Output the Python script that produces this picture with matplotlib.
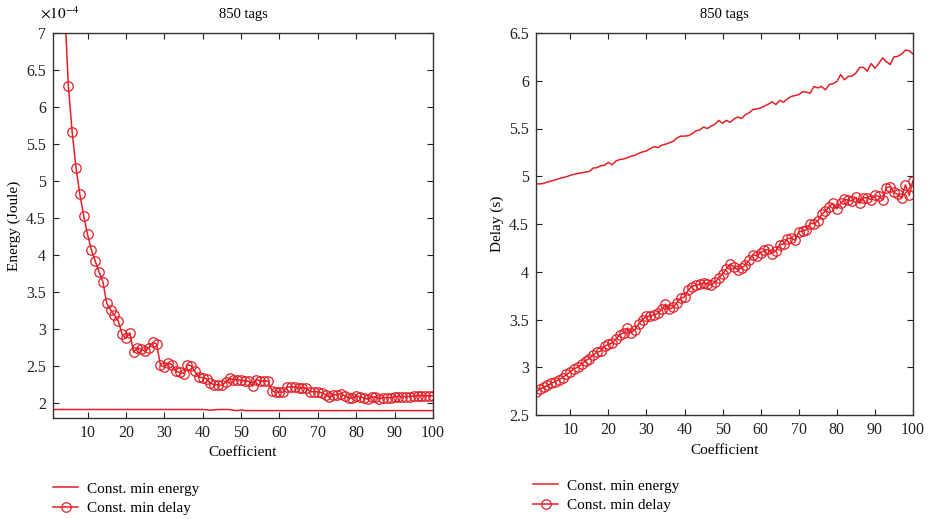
import matplotlib
matplotlib.use("Agg")
import matplotlib.pyplot as plt
from matplotlib.ticker import FormatStrFormatter, FixedLocator

plt.rcParams['font.family'] = ['Liberation Serif', 'DejaVu Serif']
plt.rcParams['mathtext.fontset'] = 'stix'

coef = list(range(1, 101))

# Left panel: energy (x 1e-4 Joule)
energy_min_energy = ([1.915] * 40 +
                     [1.91, 1.905, 1.91, 1.915, 1.915, 1.915, 1.915, 1.905, 1.90, 1.91] +
                     [1.90] * 50)
energy_min_delay = [9.8, 8.8, 8.0, 7.4, 6.28, 5.66, 5.18, 4.82, 4.53, 4.28,
                    4.07, 3.92, 3.77, 3.64, 3.35, 3.26, 3.19, 3.11, 2.93, 2.875,
                    2.95, 2.69, 2.75, 2.73, 2.70, 2.75, 2.82, 2.80, 2.51, 2.49,
                    2.545, 2.52, 2.43, 2.415, 2.40, 2.52, 2.505, 2.43, 2.35, 2.345,
                    2.33, 2.27, 2.25, 2.25, 2.24, 2.285, 2.335, 2.32, 2.32, 2.31,
                    2.30, 2.295, 2.23, 2.32, 2.30, 2.30, 2.30, 2.17, 2.15, 2.15,
                    2.15, 2.22, 2.22, 2.22, 2.205, 2.205, 2.205, 2.155, 2.155, 2.155,
                    2.14, 2.115, 2.085, 2.115, 2.115, 2.13, 2.10, 2.07, 2.07, 2.10,
                    2.085, 2.07, 2.055, 2.085, 2.085, 2.06, 2.075, 2.075, 2.075, 2.09,
                    2.09, 2.09, 2.09, 2.09, 2.10, 2.10, 2.10, 2.10, 2.10, 2.10]

# Right panel: delay (s)
delay_min_energy = [4.92, 4.92, 4.925, 4.94, 4.95, 4.96, 4.975, 4.985, 4.995, 5.01,
                    5.02, 5.03, 5.035, 5.045, 5.05, 5.085, 5.09, 5.11, 5.115, 5.145,
                    5.12, 5.16, 5.175, 5.18, 5.195, 5.21, 5.22, 5.24, 5.255, 5.265,
                    5.29, 5.31, 5.30, 5.325, 5.335, 5.35, 5.365, 5.40, 5.42, 5.42,
                    5.425, 5.445, 5.475, 5.485, 5.515, 5.50, 5.525, 5.545, 5.585, 5.555,
                    5.585, 5.565, 5.60, 5.62, 5.605, 5.645, 5.665, 5.70, 5.705, 5.715,
                    5.735, 5.755, 5.78, 5.75, 5.795, 5.775, 5.81, 5.835, 5.845, 5.855,
                    5.885, 5.88, 5.87, 5.94, 5.925, 5.94, 5.905, 5.96, 5.97, 5.99,
                    6.065, 6.01, 6.045, 6.05, 6.08, 6.14, 6.14, 6.10, 6.18, 6.13,
                    6.18, 6.24, 6.20, 6.17, 6.25, 6.255, 6.28, 6.32, 6.315, 6.28]
delay_min_delay = [2.745, 2.77, 2.79, 2.81, 2.83, 2.85, 2.87, 2.89, 2.925, 2.95,
                   2.985, 3.0, 3.03, 3.07, 3.09, 3.13, 3.155, 3.17, 3.22, 3.24,
                   3.255, 3.295, 3.34, 3.36, 3.41, 3.36, 3.395, 3.455, 3.50, 3.535,
                   3.535, 3.55, 3.565, 3.605, 3.66, 3.605, 3.63, 3.675, 3.725, 3.735,
                   3.81, 3.845, 3.86, 3.87, 3.88, 3.875, 3.86, 3.89, 3.935, 3.975,
                   4.03, 4.08, 4.05, 4.02, 4.04, 4.07, 4.12, 4.18, 4.165, 4.20,
                   4.225, 4.235, 4.19, 4.22, 4.285, 4.29, 4.345, 4.355, 4.33, 4.42,
                   4.425, 4.44, 4.505, 4.505, 4.53, 4.60, 4.635, 4.68, 4.715, 4.66,
                   4.715, 4.76, 4.75, 4.74, 4.78, 4.715, 4.775, 4.775, 4.755, 4.80,
                   4.79, 4.755, 4.88, 4.89, 4.83, 4.81, 4.775, 4.91, 4.80, 4.955]

x_ticks = [10, 20, 30, 40, 50, 60, 70, 80, 90, 100]
left_yticks = [2, 2.5, 3, 3.5, 4, 4.5, 5, 5.5, 6, 6.5, 7]
right_yticks = [2.5, 3, 3.5, 4, 4.5, 5, 5.5, 6, 6.5]
labels = ["Const. min energy", "Const. min delay"]
title = "850 tags"

RED = '#e51f26'

fig = plt.figure(figsize=(9.31, 5.19), dpi=100)
axL = fig.add_axes([53/931, 1-418/519, 380/931, 385/519])
axR = fig.add_axes([536/931, 1-415/519, 377/931, 382/519])

def style(ax, yticks, ylim):
    ax.set_xlim(1, 100)
    ax.set_ylim(*ylim)
    ax.xaxis.set_major_locator(FixedLocator(x_ticks))
    ax.yaxis.set_major_locator(FixedLocator(yticks))
    ax.yaxis.set_major_formatter(FormatStrFormatter('%g'))
    ax.tick_params(direction='in', top=True, right=True, length=4, width=0.8,
                   labelsize=11.5, colors='#222222', pad=5)
    for s in ax.spines.values():
        s.set_color('#333333')
        s.set_linewidth(1.0)
    ax.set_title(title, fontsize=10.5, pad=11)
    ax.set_xlabel("Coefficient", fontsize=11, labelpad=4)

lw = 1.1
l1, = axL.plot(coef, energy_min_energy, color=RED, lw=lw)
l2, = axL.plot(coef, energy_min_delay, color=RED, lw=lw, marker='o', ms=6.8,
               mfc='none', mew=0.9)
style(axL, left_yticks, (1.8, 7))
axL.set_ylabel("Energy (Joule)", fontsize=11, labelpad=4)
fig.text(40/931, 1-13/519, r"$\times10^{-4}$", fontsize=11, va='center', ha='left')

r1, = axR.plot(coef, delay_min_energy, color=RED, lw=lw)
r2, = axR.plot(coef, delay_min_delay, color=RED, lw=lw, marker='o', ms=6.8,
               mfc='none', mew=0.9)
style(axR, right_yticks, (2.5, 6.5))
axR.set_ylabel("Delay (s)", fontsize=11, labelpad=4)

legkw = dict(frameon=False, fontsize=11, borderpad=0, borderaxespad=0,
             handlelength=1.65, handletextpad=0.6, labelspacing=0.38,
             loc='upper left', bbox_transform=fig.transFigure)
fig.legend([l1, l2], labels, bbox_to_anchor=(53/931, 1-482/519), **legkw)
fig.legend([r1, r2], labels, bbox_to_anchor=(533/931, 1-479/519), **legkw)

fig.savefig("out.png", dpi=100)
